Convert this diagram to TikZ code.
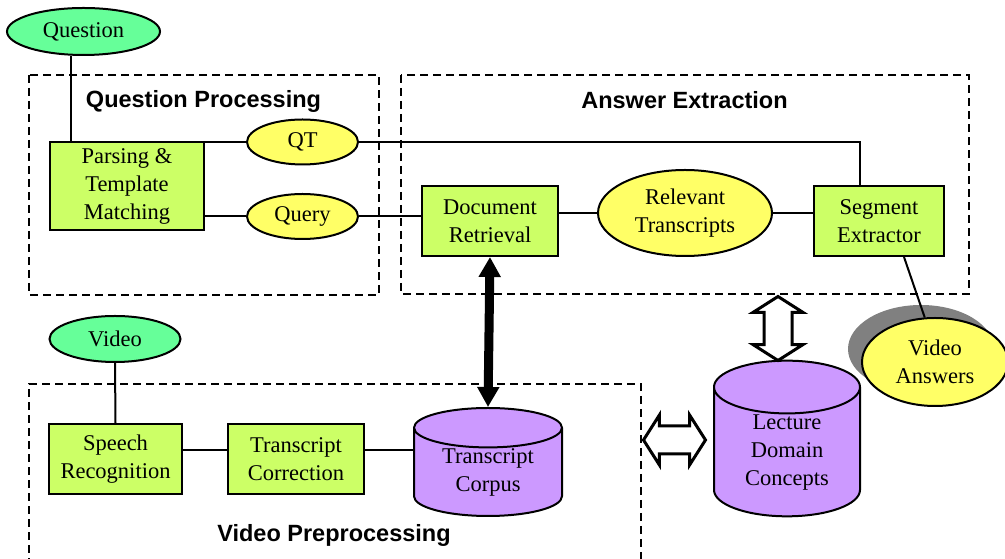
\documentclass[tikz,border=0pt]{standalone}
\usepackage{fontspec}
\setmainfont{Liberation Serif}
\newfontfamily\headfont{Liberation Sans}
\usetikzlibrary{shapes,arrows.meta,shadows,calc}

\definecolor{srcgreen}{HTML}{66FF99}
\definecolor{procgreen}{HTML}{CCFF66}
\definecolor{datayellow}{HTML}{FFFF66}
\definecolor{storeviolet}{HTML}{CC99FF}

\begin{document}
\begin{tikzpicture}[x=1pt,y=1pt,
  every node/.style={font=\fontsize{22.5}{28}\selectfont, inner sep=0pt, align=center},
  proc/.style={rectangle, draw, line width=2pt, fill=procgreen, minimum height=70pt},
  src/.style={ellipse, draw, line width=2pt, fill=srcgreen, minimum height=46pt},
  data/.style={ellipse, draw, line width=2pt, fill=datayellow, minimum width=111pt, minimum height=45pt},
  store/.style={cylinder, shape border rotate=90, draw, line width=2pt, fill=storeviolet, anchor=shape center},
  group/.style={line width=1.5pt, dash pattern=on 8pt off 5pt},
  grouptitle/.style={font=\headfont\bfseries\fontsize{23.5}{28}\selectfont},
  link/.style={line width=2pt},
  bigarrow/.style={line width=9pt, {Triangle[width=21pt,length=20pt]}-{Triangle[width=21pt,length=20pt]}},
  hollow/.style={double arrow, draw, line width=3pt, fill=white, inner xsep=0pt, inner ysep=12.5pt,
    double arrow head extend=11pt, double arrow tip angle=115},
]
\useasboundingbox (0,0) rectangle (1005,559);
\clip (0,0) rectangle (1005,559);

% dashed groups
\draw [group] (29,484) rectangle (379,264);
\draw [group] (401,484) rectangle (969,265);
\draw [group] (29,-20) -- (29,175) -- (641,175) -- (641,-20);
\node [grouptitle] (qptitle) at (203.5,458) {Question Processing};
\node [grouptitle] (aetitle) at (684.5,459) {Answer Extraction};
\node [grouptitle] (vptitle) at (334,24) {Video Preprocessing};

% question side
\node [src, minimum width=153pt, minimum height=47pt] (question) at (83.5,527.5) {Question};
\node [proc, minimum width=154pt, minimum height=88pt] (parse) at (127,373) {Parsing \&\\Template\\Matching};
\node [data] (qt) at (302.5,417) {QT};
\node [data] (query) at (302.5,342.5) {Query};

% answer extraction
\node [proc, minimum width=136pt] (doc) at (490,338) {Document\\Retrieval};
\node [ellipse, draw, line width=2pt, fill=datayellow, minimum width=174pt, minimum height=86pt] (rel) at (685,346) {Relevant\\Transcripts};
\node [proc, minimum width=130pt] (seg) at (879,338) {Segment\\Extractor};
\node [ellipse, draw, line width=2pt, fill=datayellow, minimum width=146pt, minimum height=88pt,
  drop shadow={shadow xshift=-14pt, shadow yshift=13pt, fill=black!50, opacity=1}] (va) at (935,197) {Video\\Answers};

% video preprocessing
\node [src, minimum width=131pt] (video) at (115,220) {Video};
\node [proc, minimum width=133pt] (speech) at (115.5,100) {Speech\\Recognition};
\node [proc, minimum width=136pt] (corr) at (296,100) {Transcript\\Correction};
\node [store, minimum width=148pt, minimum height=108pt, aspect=0.43] (corpus) at (488,97) {Transcript\\Corpus};
\node [store, minimum width=146pt, minimum height=153pt, aspect=0.63] (ldc) at (787,120.5) {Lecture\\Domain\\Concepts};

% connectors
\draw [link] ([xshift=22pt]parse.north west) -- ([xshift=22pt]parse.north west |- question.south);
\draw [link] (qt.west -| parse.east) -- (qt.west);
\draw [link] (qt.east) -| ([xshift=-19pt]seg.north);
\draw [link] (parse.east |- query.west) -- (query.west);
\draw [link] (query.east) -- (query.east -| doc.west);
\draw [link] (doc.east |- rel.west) -- (rel.west);
\draw [link] (rel.east) -- (rel.east -| seg.west);
\draw [link] ([xshift=25pt]seg.south) -- (va.103);
\draw [link] (video.south) -- (speech.north);
\draw [link] ([yshift=9pt]speech.east) -- ([yshift=9pt]corr.west);
\draw [link] ([yshift=9pt]corr.east) -- ([yshift=9pt]corr.east -| corpus.west);
\draw [bigarrow] (doc.south) -- (corpus.north);

% hollow two-way arrows to the concept store
\node [hollow, rotate=90, minimum height=64pt] (updown) at (778,230.5) {};
\node [hollow, minimum height=62pt] (leftright) at (674.5,119) {};
\end{tikzpicture}
\end{document}
